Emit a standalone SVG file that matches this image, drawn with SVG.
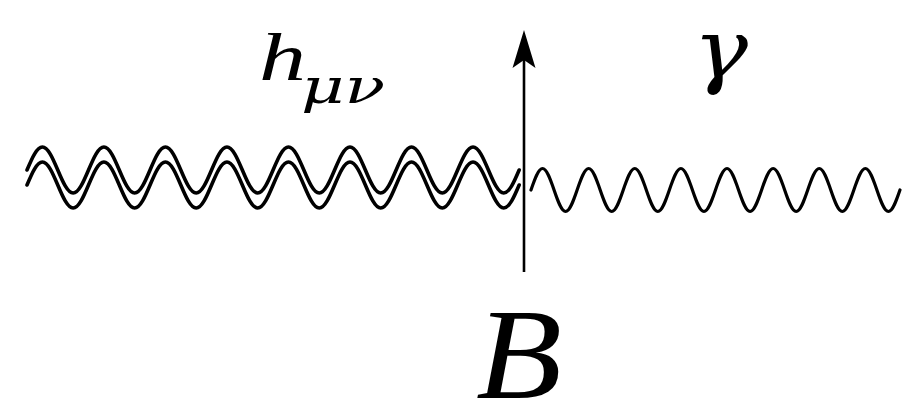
<svg xmlns="http://www.w3.org/2000/svg" xmlns:xlink="http://www.w3.org/1999/xlink" width="919" height="407" viewBox="0 0 919 407">
<style>
.wave{fill:none;stroke:#000;stroke-linecap:round;stroke-linejoin:round}
.grav{stroke-width:3.6}
.phot{stroke-width:3.2}
.axis{fill:none;stroke:#000;stroke-width:2.6}
.lbl{font-family:"Liberation Serif","Times New Roman",serif;font-style:italic;fill:#000}
.greek{font-family:"DejaVu Serif","Liberation Serif",serif;font-style:italic;fill:#000}
</style>
<defs>
<marker id="arr" markerUnits="userSpaceOnUse" markerWidth="40" markerHeight="26" viewBox="0 -13 40 26" refX="8" refY="0" orient="auto">
<path d="M38,0 L0,-11.5 L8,0 L0,11.5 Z" fill="#000"/>
</marker>
<path id="gw" d="M27,170 c5,-11.78 9.8,-23 15.38,-23 s10.38,11.22 15.38,23 s9.8,23 15.38,23 s10.38,-11.22 15.38,-23 s9.8,-23 15.38,-23 s10.38,11.22 15.38,23 s9.8,23 15.38,23 s10.38,-11.22 15.38,-23 s9.8,-23 15.38,-23 s10.38,11.22 15.38,23 s9.8,23 15.38,23 s10.38,-11.22 15.38,-23 s9.8,-23 15.38,-23 s10.38,11.22 15.38,23 s9.8,23 15.38,23 s10.38,-11.22 15.38,-23 s9.8,-23 15.38,-23 s10.38,11.22 15.38,23 s9.8,23 15.38,23 s10.38,-11.22 15.38,-23 s9.8,-23 15.38,-23 s10.38,11.22 15.38,23 s9.8,23 15.38,23 s10.38,-11.22 15.38,-23 s9.8,-23 15.38,-23 s10.38,11.22 15.38,23 s9.8,23 15.38,23 s10.38,-11.22 15.38,-23 s9.8,-23 15.38,-23 s10.38,11.22 15.38,23 s9.8,23 15.38,23 s10.38,-11.22 15.38,-23"/>
</defs>
<g id="connectors">
<g id="graviton">
<use xlink:href="#gw" href="#gw" class="wave grav"/>
<use xlink:href="#gw" href="#gw" class="wave grav" transform="translate(0,15)"/>
</g>
<path id="photon" class="wave phot" d="M531,190 c3.76,-11.01 7.36,-21.5 11.53,-21.5 s7.77,10.49 11.53,21.5 s7.36,21.5 11.53,21.5 s7.77,-10.49 11.53,-21.5 s7.36,-21.5 11.53,-21.5 s7.77,10.49 11.53,21.5 s7.36,21.5 11.53,21.5 s7.77,-10.49 11.53,-21.5 s7.36,-21.5 11.53,-21.5 s7.77,10.49 11.53,21.5 s7.36,21.5 11.53,21.5 s7.77,-10.49 11.53,-21.5 s7.36,-21.5 11.53,-21.5 s7.77,10.49 11.53,21.5 s7.36,21.5 11.53,21.5 s7.77,-10.49 11.53,-21.5 s7.36,-21.5 11.53,-21.5 s7.77,10.49 11.53,21.5 s7.36,21.5 11.53,21.5 s7.77,-10.49 11.53,-21.5 s7.36,-21.5 11.53,-21.5 s7.77,10.49 11.53,21.5 s7.36,21.5 11.53,21.5 s7.77,-10.49 11.53,-21.5 s7.36,-21.5 11.53,-21.5 s7.77,10.49 11.53,21.5 s7.36,21.5 11.53,21.5 s7.77,-10.49 11.53,-21.5 s7.36,-21.5 11.53,-21.5 s7.77,10.49 11.53,21.5 s7.36,21.5 11.53,21.5 s7.77,-10.49 11.53,-21.5"/>
<path id="field-arrow" class="axis" d="M524,272 L524,60" marker-end="url(#arr)"/>
</g>
<g id="label-h">
<text class="lbl" x="259" y="80" font-size="68" textLength="47" lengthAdjust="spacingAndGlyphs">h</text>
<text class="greek" x="301" y="103" font-size="48" textLength="84" lengthAdjust="spacingAndGlyphs">μν</text>
</g>
<g id="label-gamma">
<text class="greek" x="693" y="78" font-size="82" textLength="55" lengthAdjust="spacingAndGlyphs">γ</text>
</g>
<g id="label-B">
<text class="lbl" x="476" y="398" font-size="130" textLength="86" lengthAdjust="spacingAndGlyphs">B</text>
</g>
</svg>
